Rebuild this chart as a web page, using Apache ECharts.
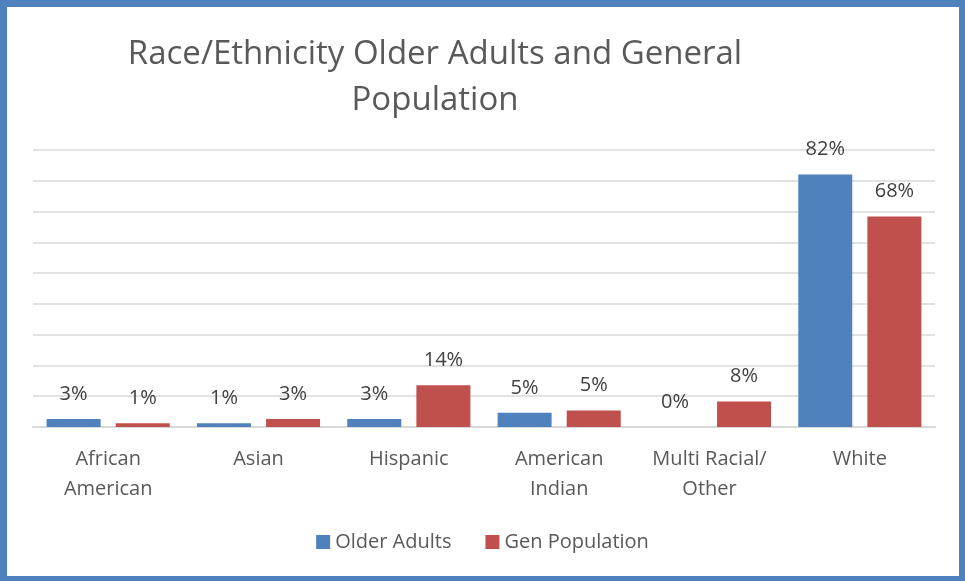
<!DOCTYPE html>
<html>
<head>
<meta charset="utf-8">
<script src="https://cdn.jsdelivr.net/npm/echarts@6/dist/echarts.min.js"></script>
<style>
html,body{margin:0;padding:0;background:#fff;}
#chart{position:absolute;left:0;top:0;width:965px;height:581px;}
#frame{position:absolute;left:0;top:0;width:965px;height:581px;box-sizing:border-box;
border-style:solid;border-color:#4F81BD;border-width:7px 6px 5px 7px;pointer-events:none;}
</style>
</head>
<body>
<div id="chart"></div>
<div id="frame"></div>
<script>
const categories = ['African\nAmerican', 'Asian', 'Hispanic', 'American\nIndian', 'Multi Racial/\nOther', 'White'];
const olderAdults = [2.6, 1.2, 2.6, 4.6, 0, 82];
const genPopulation = [1.2, 2.6, 13.6, 5.4, 8.3, 68.4];
const seriesNames = ['Older Adults', 'Gen Population'];
const titleText = 'Race/Ethnicity Older Adults and General\nPopulation';

const FONT = '"Open Sans", "Liberation Sans", sans-serif';
const chart = echarts.init(document.getElementById('chart'), null, {renderer: 'canvas'});
const labelCfg = {
  show: true, position: 'top', distance: 15,
  color: '#404040', fontSize: 20, fontFamily: FONT,
  formatter: p => Math.round(p.value) + '%'
};
chart.setOption({
  animation: false,
  title: {
    text: titleText,
    left: 430, top: 27, textAlign: 'center',
    textStyle: {fontFamily: FONT, fontSize: 33, fontWeight: 'normal', color: '#595959', lineHeight: 46, align: 'center'}
  },
  legend: {
    top: 527, left: 'center',
    itemWidth: 14, itemHeight: 14, itemGap: 34, itemTextGap: 6, icon: 'rect',
    textStyle: {fontFamily: FONT, fontSize: 20, color: '#595959'},
    data: seriesNames
  },
  grid: {left: 33, right: 30, top: 150, bottom: 154, containLabel: false},
  xAxis: {
    type: 'category', data: categories,
    axisLine: {lineStyle: {color: '#d9d9d9', width: 2}},
    axisTick: {show: false},
    axisLabel: {fontFamily: FONT, fontSize: 20, color: '#595959', lineHeight: 30, margin: 17, interval: 0}
  },
  yAxis: {
    type: 'value', min: 0, max: 90, interval: 10,
    axisLabel: {show: false}, axisLine: {show: false}, axisTick: {show: false},
    splitLine: {lineStyle: {color: '#d9d9d9', width: 1.5}}
  },
  series: [
    {name: seriesNames[0], type: 'bar', data: olderAdults, barWidth: 54, barGap: '28%',
     itemStyle: {color: '#4F81BD'}, label: labelCfg},
    {name: seriesNames[1], type: 'bar', data: genPopulation, barWidth: 54,
     itemStyle: {color: '#C0504D'}, label: labelCfg}
  ]
});
</script>
</body>
</html>
